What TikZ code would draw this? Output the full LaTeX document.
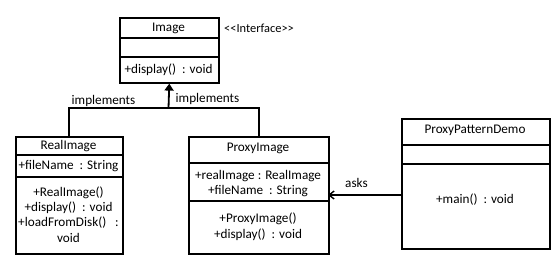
\documentclass[tikz,border=0pt]{standalone}
\usepackage{fontspec}
\setmainfont{Carlito}
\usetikzlibrary{arrows.meta}
\begin{document}
\begin{tikzpicture}[x=1pt,y=-1pt,
  box/.style={draw, line width=1.6pt, anchor=north west, inner sep=0pt},
  sep/.style={line width=1.6pt},
  txt/.style={font=\fontsize{13.2}{15}\selectfont, inner sep=0pt, anchor=center},
  conn/.style={line width=1.8pt}]
\useasboundingbox (0,0) rectangle (560,263);
% Image
\node[box, minimum width=99pt, minimum height=65pt] (image) at (119,17) {};
\draw[sep] (119,38) -- (218,38);
\draw[sep] (119,57) -- (218,57);
\node[txt] (imgt) at (168.5,28.5) {Image};
\node[txt] (imgm) at (168.5,70) {+display()\ \ : void};
\node[txt, anchor=west] (iface) at (224,28.5) {\fontsize{12.4}{14}\selectfont <{}<Interface>{}>};
% RealImage
\node[box, minimum width=107pt, minimum height=117pt] (real) at (15,136) {};
\draw[sep] (15,155) -- (122,155);
\draw[sep] (15,177) -- (122,177);
\node[txt] (realt) at (68.5,146) {RealImage};
\node[txt] (reala) at (68.5,166.5) {+fileName\ \ : String};
\node[txt] (realm1) at (68.5,193) {+RealImage()};
\node[txt] (realm2) at (68.5,208) {+display()\ \ : void};
\node[txt] (realm3) at (68.5,223) {+loadFromDisk()\ \ \ :};
\node[txt] (realm4) at (68.5,238) {void};
% ProxyImage
\node[box, minimum width=140pt, minimum height=117pt] (proxy) at (188,136) {};
\draw[sep] (188,163) -- (328,163);
\draw[sep] (188,201) -- (328,201);
\node[txt] (proxyt) at (258,148.5) {ProxyImage};
\node[txt] (proxya1) at (258,176.5) {+realImage : RealImage};
\node[txt] (proxya2) at (258,191) {+fileName\ \ : String};
\node[txt] (proxym1) at (258,219) {+ProxyImage()};
\node[txt] (proxym2) at (258,235) {+display()\ \ : void};
% ProxyPatternDemo
\node[box, minimum width=148pt, minimum height=130pt] (demo) at (401,118) {};
\draw[sep] (401,145) -- (549,145);
\draw[sep] (401,164) -- (549,164);
\node[txt] (demot) at (475,130.5) {ProxyPatternDemo};
\node[txt] (demom) at (475,200) {+main()\ \ : void};
% implements
\coordinate (j) at (168.5,108);
\draw[conn] (real.north) |- (j) -| (proxy.north);
\draw[conn, -{Triangle[length=7pt,width=9pt]}] (j) -- (image.south);
\node[txt] (impl1) at (103.5,100.5) {implements};
\node[txt] (impl2) at (207.5,99) {implements};
% asks
\coordinate (a1) at (401,195);
\coordinate (a2) at (328,195);
\draw[line width=1.4pt, -{Straight Barb[length=5pt,width=8pt]}] (a1) -- (a2);
\node[txt] (asks) at (356.5,182.5) {asks};
\end{tikzpicture}
\end{document}
